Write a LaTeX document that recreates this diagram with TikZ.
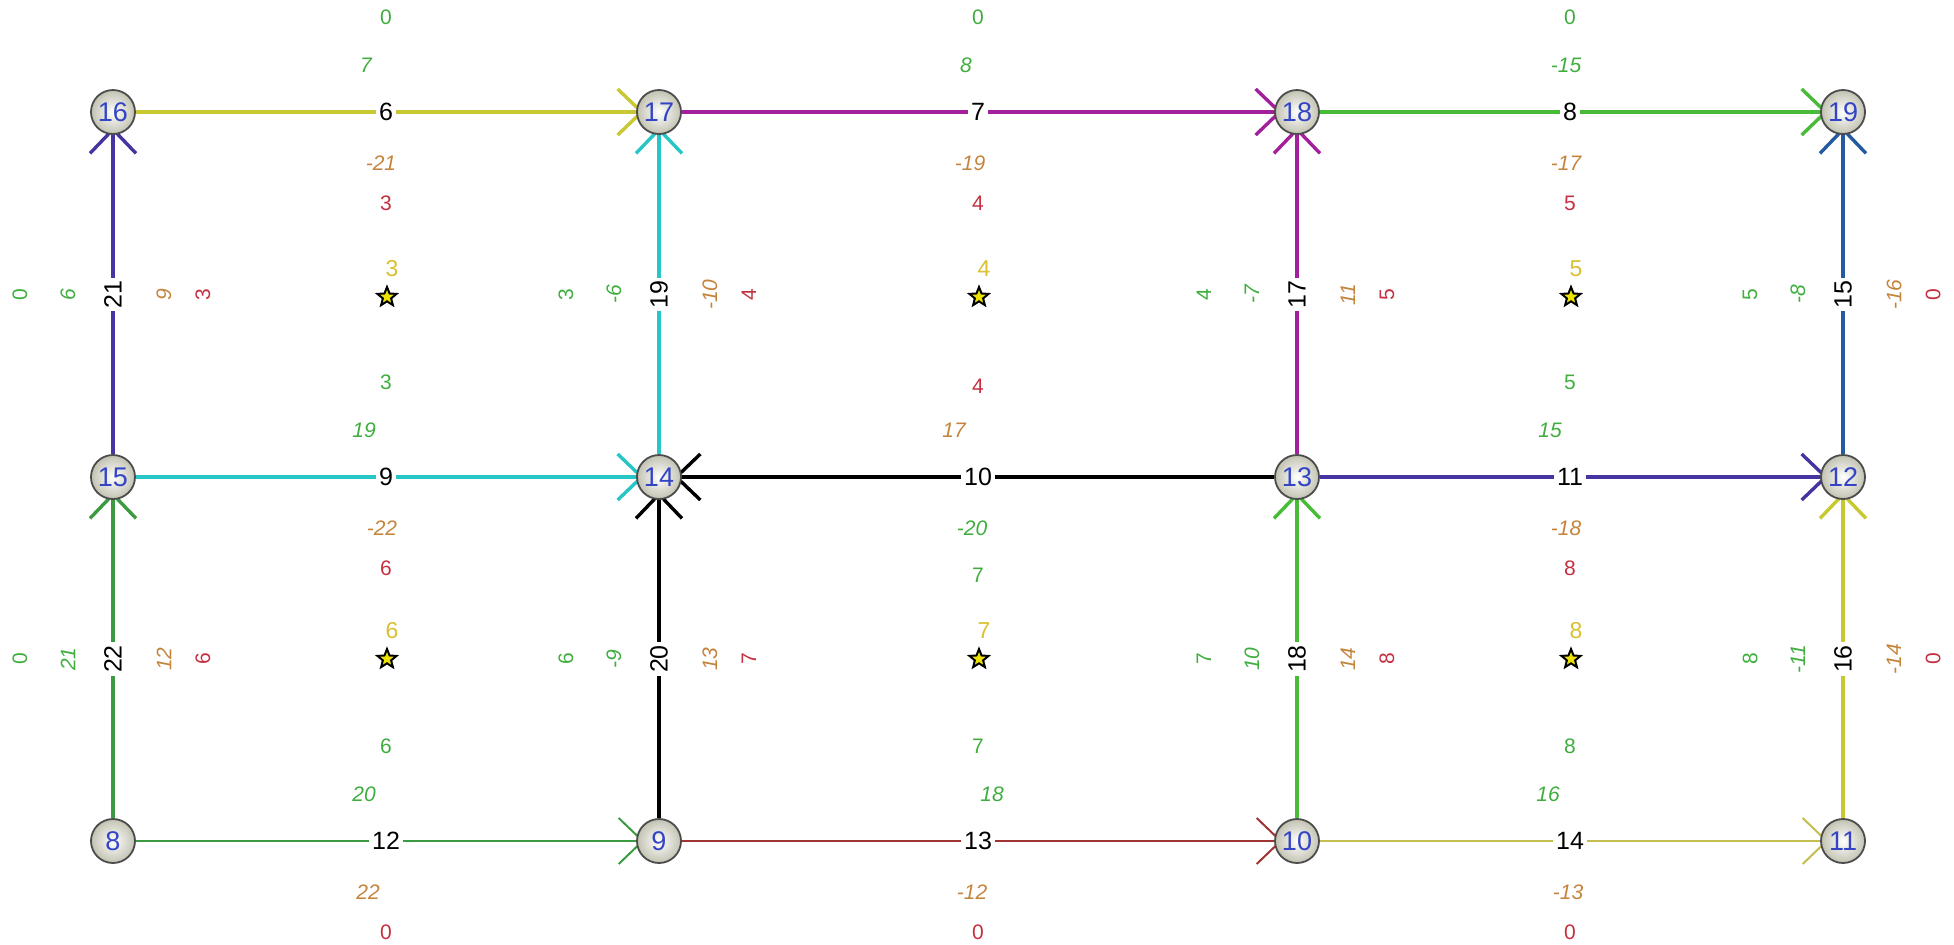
\documentclass[tikz,border=0pt]{standalone}
\usepackage{fontspec}
\setmainfont{Liberation Sans}
\usetikzlibrary{arrows.meta,shapes.geometric,calc}
\pgfdeclarelayer{bg}
\pgfsetlayers{bg,main}
\definecolor{cYel}{HTML}{C8C832}
\definecolor{cMag}{HTML}{A3209C}
\definecolor{cGrn}{HTML}{48BC36}
\definecolor{cDGrn}{HTML}{3C9A40}
\definecolor{cInd}{HTML}{4634A0}
\definecolor{cCyan}{HTML}{26C6C6}
\definecolor{cBlue}{HTML}{245AA0}
\definecolor{cRed}{HTML}{A03434}
\definecolor{cOli}{HTML}{C4BE50}
\definecolor{tGrn}{HTML}{3FAE3F}
\definecolor{tOra}{HTML}{C4843C}
\definecolor{tRed}{HTML}{C43040}
\definecolor{tYel}{HTML}{D8C030}
\definecolor{nodeGray}{HTML}{C2C2B2}
\definecolor{nodeBlue}{HTML}{3344C4}
\newcommand\Hlab[7]{%
  \node[lg] (#1g) at ($(#1)+(0,-95)$) {#2};
  \node[lgi] (#1gi) at ($(#1)+(#6,-47)$) {#3};
  \node[loi] (#1oi) at ($(#1)+(#7,51)$) {#4};
  \node[lr] (#1r) at ($(#1)+(0,91)$) {#5};
}
\newcommand\Vlab[5]{%
  \node[lg,rotate=90] (#1g) at ($(#1)+(-93,0)$) {#2};
  \node[lgi,rotate=90] (#1gi) at ($(#1)+(-45,0)$) {#3};
  \node[loi,rotate=90] (#1oi) at ($(#1)+(51,0)$) {#4};
  \node[lr,rotate=90] (#1r) at ($(#1)+(90,0)$) {#5};
}
\begin{document}
\begin{tikzpicture}[x=0.5pt,y=-0.5pt,
  vtx/.style={circle, minimum size=22pt, inner sep=0pt, draw=black!70, line width=0.9pt,
    inner color=white, outer color=nodeGray, text=nodeBlue, font=\fontsize{13.5}{13.5}\selectfont},
  arr/.style={-{Straight Barb[length=12pt,width=23pt]}, shorten >=-4pt, line width=1.7pt},
  thinedge/.style={line width=1pt},
  elab/.style={fill=white, inner sep=1.5pt, text=black, font=\fontsize{12.5}{12.5}\selectfont},
  lg/.style={text=tGrn, inner sep=0pt, font=\fontsize{10.5}{10.5}\selectfont},
  lgi/.style={text=tGrn, inner sep=0pt, font=\fontsize{10.5}{10.5}\selectfont\itshape},
  loi/.style={text=tOra, inner sep=0pt, font=\fontsize{10.5}{10.5}\selectfont\itshape},
  lr/.style={text=tRed, inner sep=0pt, font=\fontsize{10.5}{10.5}\selectfont},
  ly/.style={text=tYel, inner sep=0pt, font=\fontsize{11.5}{11.5}\selectfont},
  starnode/.style={star, star points=5, star point ratio=2.3, minimum size=10pt, inner sep=0pt,
    fill=yellow!85!olive, draw=black, line width=1pt}]
\useasboundingbox (0,0) rectangle (1954,944);
% vertices
\node[vtx] (n16) at (113,112) {16};
\node[vtx] (n17) at (659,112) {17};
\node[vtx] (n18) at (1297,112) {18};
\node[vtx] (n19) at (1843,112) {19};
\node[vtx] (n15) at (113,477) {15};
\node[vtx] (n14) at (659,477) {14};
\node[vtx] (n13) at (1297,477) {13};
\node[vtx] (n12) at (1843,477) {12};
\node[vtx] (n8) at (113,841) {8};
\node[vtx] (n9) at (659,841) {9};
\node[vtx] (n10) at (1297,841) {10};
\node[vtx] (n11) at (1843,841) {11};
% edges
\begin{pgfonlayer}{bg}
\draw[arr, cYel] (n16) -- node[elab]{6} (n17);
\draw[arr, cMag] (n17) -- node[elab]{7} (n18);
\draw[arr, cGrn] (n18) -- node[elab]{8} (n19);
\draw[arr, cInd] (n15) -- node[elab,rotate=90]{21} (n16);
\draw[arr, cCyan] (n14) -- node[elab,rotate=90]{19} (n17);
\draw[arr, cMag] (n13) -- node[elab,rotate=90]{17} (n18);
\draw[arr, cBlue] (n12) -- node[elab,rotate=90]{15} (n19);
\draw[arr, cCyan] (n15) -- node[elab]{9} (n14);
\draw[arr, black] (n13) -- node[elab]{10} (n14);
\draw[arr, cInd] (n13) -- node[elab]{11} (n12);
\draw[arr, cDGrn] (n8) -- node[elab,rotate=90]{22} (n15);
\draw[arr, black] (n9) -- node[elab,rotate=90]{20} (n14);
\draw[arr, cGrn] (n10) -- node[elab,rotate=90]{18} (n13);
\draw[arr, cYel] (n11) -- node[elab,rotate=90]{16} (n12);
\draw[arr, thinedge, cDGrn] (n8) -- node[elab]{12} (n9);
\draw[arr, thinedge, cRed] (n9) -- node[elab]{13} (n10);
\draw[arr, thinedge, cOli] (n10) -- node[elab]{14} (n11);
\end{pgfonlayer}
% midpoints
\coordinate (m6) at ($(n16)!0.5!(n17)$);
\coordinate (m7) at ($(n17)!0.5!(n18)$);
\coordinate (m8) at ($(n18)!0.5!(n19)$);
\coordinate (m9) at ($(n15)!0.5!(n14)$);
\coordinate (m10) at ($(n14)!0.5!(n13)$);
\coordinate (m11) at ($(n13)!0.5!(n12)$);
\coordinate (m12) at ($(n8)!0.5!(n9)$);
\coordinate (m13) at ($(n9)!0.5!(n10)$);
\coordinate (m14) at ($(n10)!0.5!(n11)$);
\coordinate (m21) at ($(n15)!0.5!(n16)$);
\coordinate (m19) at ($(n14)!0.5!(n17)$);
\coordinate (m17) at ($(n13)!0.5!(n18)$);
\coordinate (m15) at ($(n12)!0.5!(n19)$);
\coordinate (m22) at ($(n8)!0.5!(n15)$);
\coordinate (m20) at ($(n9)!0.5!(n14)$);
\coordinate (m18) at ($(n10)!0.5!(n13)$);
\coordinate (m16) at ($(n11)!0.5!(n12)$);
% horizontal edge labels
\Hlab{m6}{0}{7}{-21}{3}{-20}{-5}
\Hlab{m7}{0}{8}{-19}{4}{-12}{-8}
\Hlab{m8}{0}{-15}{-17}{5}{-4}{-4}
\Hlab{m9}{3}{19}{-22}{6}{-22}{-4}
\Hlab{m11}{5}{15}{-18}{8}{-20}{-4}
\Hlab{m12}{6}{20}{22}{0}{-22}{-18}
\Hlab{m13}{7}{18}{-12}{0}{14}{-6}
\Hlab{m14}{8}{16}{-13}{0}{-22}{-2}
% reversed edge 13 -> 14
\node[lr] (m10r) at ($(m10)+(0,-91)$) {4};
\node[loi] (m10oi) at ($(m10)+(-24,-47)$) {17};
\node[lgi] (m10gi) at ($(m10)+(-6,51)$) {-20};
\node[lg] (m10g) at ($(m10)+(0,98)$) {7};
% vertical edge labels
\Vlab{m21}{0}{6}{9}{3}
\Vlab{m19}{3}{-6}{-10}{4}
\Vlab{m17}{4}{-7}{11}{5}
\Vlab{m15}{5}{-8}{-16}{0}
\Vlab{m22}{0}{21}{12}{6}
\Vlab{m20}{6}{-9}{13}{7}
\Vlab{m18}{7}{10}{14}{8}
\Vlab{m16}{8}{-11}{-14}{0}
% stars
\node[starnode] (s3) at (387,297) {};
\node[starnode] (s4) at (979,297) {};
\node[starnode] (s5) at (1571,297) {};
\node[starnode] (s6) at (387,659) {};
\node[starnode] (s7) at (979,659) {};
\node[starnode] (s8) at (1571,659) {};
\node[ly] (t3) at ($(s3)+(5,-28)$) {3};
\node[ly] (t4) at ($(s4)+(5,-28)$) {4};
\node[ly] (t5) at ($(s5)+(5,-28)$) {5};
\node[ly] (t6) at ($(s6)+(5,-28)$) {6};
\node[ly] (t7) at ($(s7)+(5,-28)$) {7};
\node[ly] (t8) at ($(s8)+(5,-28)$) {8};
\end{tikzpicture}
\end{document}
